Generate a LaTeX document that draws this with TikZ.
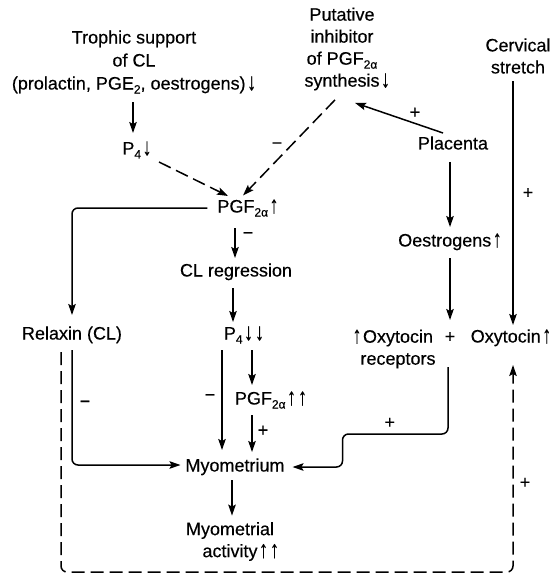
\documentclass[tikz,border=0pt]{standalone}
\usepackage{fontspec}
\setmainfont{Liberation Sans}[FakeBold=0.35]
\usetikzlibrary{arrows.meta,calc}
\newcommand{\lowsub}[1]{\raisebox{-4pt}{\fontsize{12}{12}\selectfont #1}}
\newcommand{\tallup}{\raisebox{-0.5pt}{\scalebox{1}[1.35]{↑}}}
\newcommand{\talldn}{\raisebox{-0.5pt}{\scalebox{1}[1.35]{↓}}}
\newcommand{\upar}{\kern1.5pt\tallup}
\newcommand{\dnar}{\kern1.5pt\talldn}

\begin{document}
\begin{tikzpicture}[x=1pt,y=-1pt,
  every node/.style={font=\fontsize{18}{23}\selectfont, inner sep=0pt, outer sep=0pt},
  lbl/.style={text height=13pt, text depth=4pt},
  ml/.style={align=center},
  ml22/.style={align=center, font=\fontsize{18}{22}\selectfont},
  conn/.style={line width=1.5pt},
  arr/.style={conn, -{Stealth[length=11pt,width=7.5pt,inset=2pt]}},
  dsh/.style={conn, dash pattern=on 13pt off 6pt},
  sign/.style={font=\fontsize{18}{18}\selectfont}
]
\path[use as bounding box] (0,0) rectangle (554,577);

% ---- nodes ----
\node[ml]   (troph)    at (134,62)    {Trophic support\\of CL\\(prolactin, PGE\lowsub{2}, oestrogens)\dnar};
\node[lbl]  (p4a)      at (137,150)   {P\lowsub{4}\dnar};
\node[ml22] (putative) at (342,49)    {Putative\\inhibitor\\of PGF\lowsub{2α}\\synthesis\rlap{\dnar}};
\node[ml22] (cervical) at (518,56)    {Cervical\\stretch};
\node[lbl]  (placenta) at (453,145)   {Placenta};
\node[lbl]  (pgf)      at (248,208)   {PGF\lowsub{2α}\upar};
\node[lbl]  (clreg)    at (236,272)   {CL regression};
\node[lbl]  (relaxin)  at (72,335)    {Relaxin (CL)};
\node[lbl]  (p4b)      at (244,335)   {P\lowsub{4}\dnar\kern2pt\talldn};
\node[lbl]  (oestr)    at (450,242)   {Oestrogens\upar};
\node[ml22] (oxrec)    at (398,349)   {\llap{\tallup\kern1.5pt}Oxytocin\\receptors};
\node[lbl]  (plusrec)  at (450,338)   {+};
\node[lbl]  (oxy)      at (511,338)   {Oxytocin\upar};
\node[lbl]  (pgf2)     at (271,400)   {PGF\lowsub{2α}\upar\kern2pt\tallup};
\node[lbl]  (myo)      at (235,467)   {Myometrium};
\node[ml22] (myoact)   at (230,541.5) {Myometrial\\activity\rlap{\upar\kern2pt\tallup}};

% ---- connectors ----
\draw[arr] ($(p4a.north |- troph.south)+(-4,8.5)$) -- ($(p4a.north)+(-4,-8.5)$);
\draw[dsh,-{Stealth[length=11pt,width=7.5pt,inset=2pt]}]
  ($(p4a.south)+(22,3.5)$) -- ($(pgf.north)+(-20,-3.5)$);
\draw[dsh,-{Stealth[length=11pt,width=7.5pt,inset=2pt]}]
  ($(putative.south)+(-7,9.5)$) -- node[sign,pos=0.5,xshift=-12pt,yshift=2pt]{−} ($(pgf.north)+(-5,-4)$);
\draw[arr] ($(placenta.north)+(-10,-3.5)$) -- node[sign,pos=0.45,xshift=11.5pt,yshift=6.5pt]{+} ($(putative.south)+(13,12.5)$);
\draw[arr] ($(oxy.north |- cervical.south)+(2,7.5)$) -- node[sign,pos=0.46,xshift=15pt]{+} ($(oxy.north)+(2,-4.5)$);
\draw[arr] ($(oestr.north |- placenta.south)+(0,8.5)$) -- ($(oestr.north)+(0,-6.5)$);
\draw[arr] ($(plusrec.north |- oestr.south)+(0,7.5)$) -- ($(plusrec.north)+(0,-9.5)$);
\draw[arr,rounded corners=6pt] ($(plusrec.south)+(-2,20.5)$) -- ++(0,67)
  -| node[sign,pos=0.276,yshift=11pt]{+} ($(myo.east)+(58,0)$) -- ($(myo.east)+(8,0)$);
\draw[arr] ($(clreg.north |- pgf.south)+(-1,11.5)$) -- node[sign,pos=0.25,xshift=13pt]{−} ($(clreg.north)+(-1,-5.5)$);
\draw[arr,rounded corners=6pt] ($(pgf.west)+(-10,0)$) -| ($(relaxin.north)+(0,-11.5)$);
\draw[arr] ($(p4b.north |- clreg.south)+(-11,7.5)$) -- ($(p4b.north)+(-11,-4.5)$);
\draw[arr] ($(p4b.south)+(-22,6.5)$) -- node[sign,pos=0.475,xshift=-12pt]{−} ($(myo.north -| p4b.south)+(-22,-8.5)$);
\draw[arr] ($(p4b.south)+(8,6.5)$) -- ($(pgf2.north -| p4b.south)+(8,-6.5)$);
\draw[arr] ($(pgf2.south -| p4b.south)+(8,6.5)$) -- node[sign,pos=0.43,xshift=11pt]{+} ($(myo.north -| p4b.south)+(8,-6.5)$);
\draw[arr,rounded corners=6pt] ($(relaxin.south)+(0,6.5)$) -- node[sign,pos=0.47,xshift=13pt]{−} ($(relaxin.south |- myo.west)+(0,-2)$)
  -- ($(myo.west)+(-5,-2)$);
\draw[arr] ($(myo.south)+(-3,4.5)$) -- ($(myoact.north -| myo.south)+(-3,-6.5)$);
\draw[dsh,rounded corners=6pt,-{Stealth[length=11pt,width=7.5pt,inset=2pt]}]
  ($(relaxin.south)+(-11,8.5)$) -- ++(0,220)
  -| node[sign,pos=0.715,xshift=12pt]{+} ($(oxy.south)+(2,18.5)$);
\end{tikzpicture}
\end{document}
